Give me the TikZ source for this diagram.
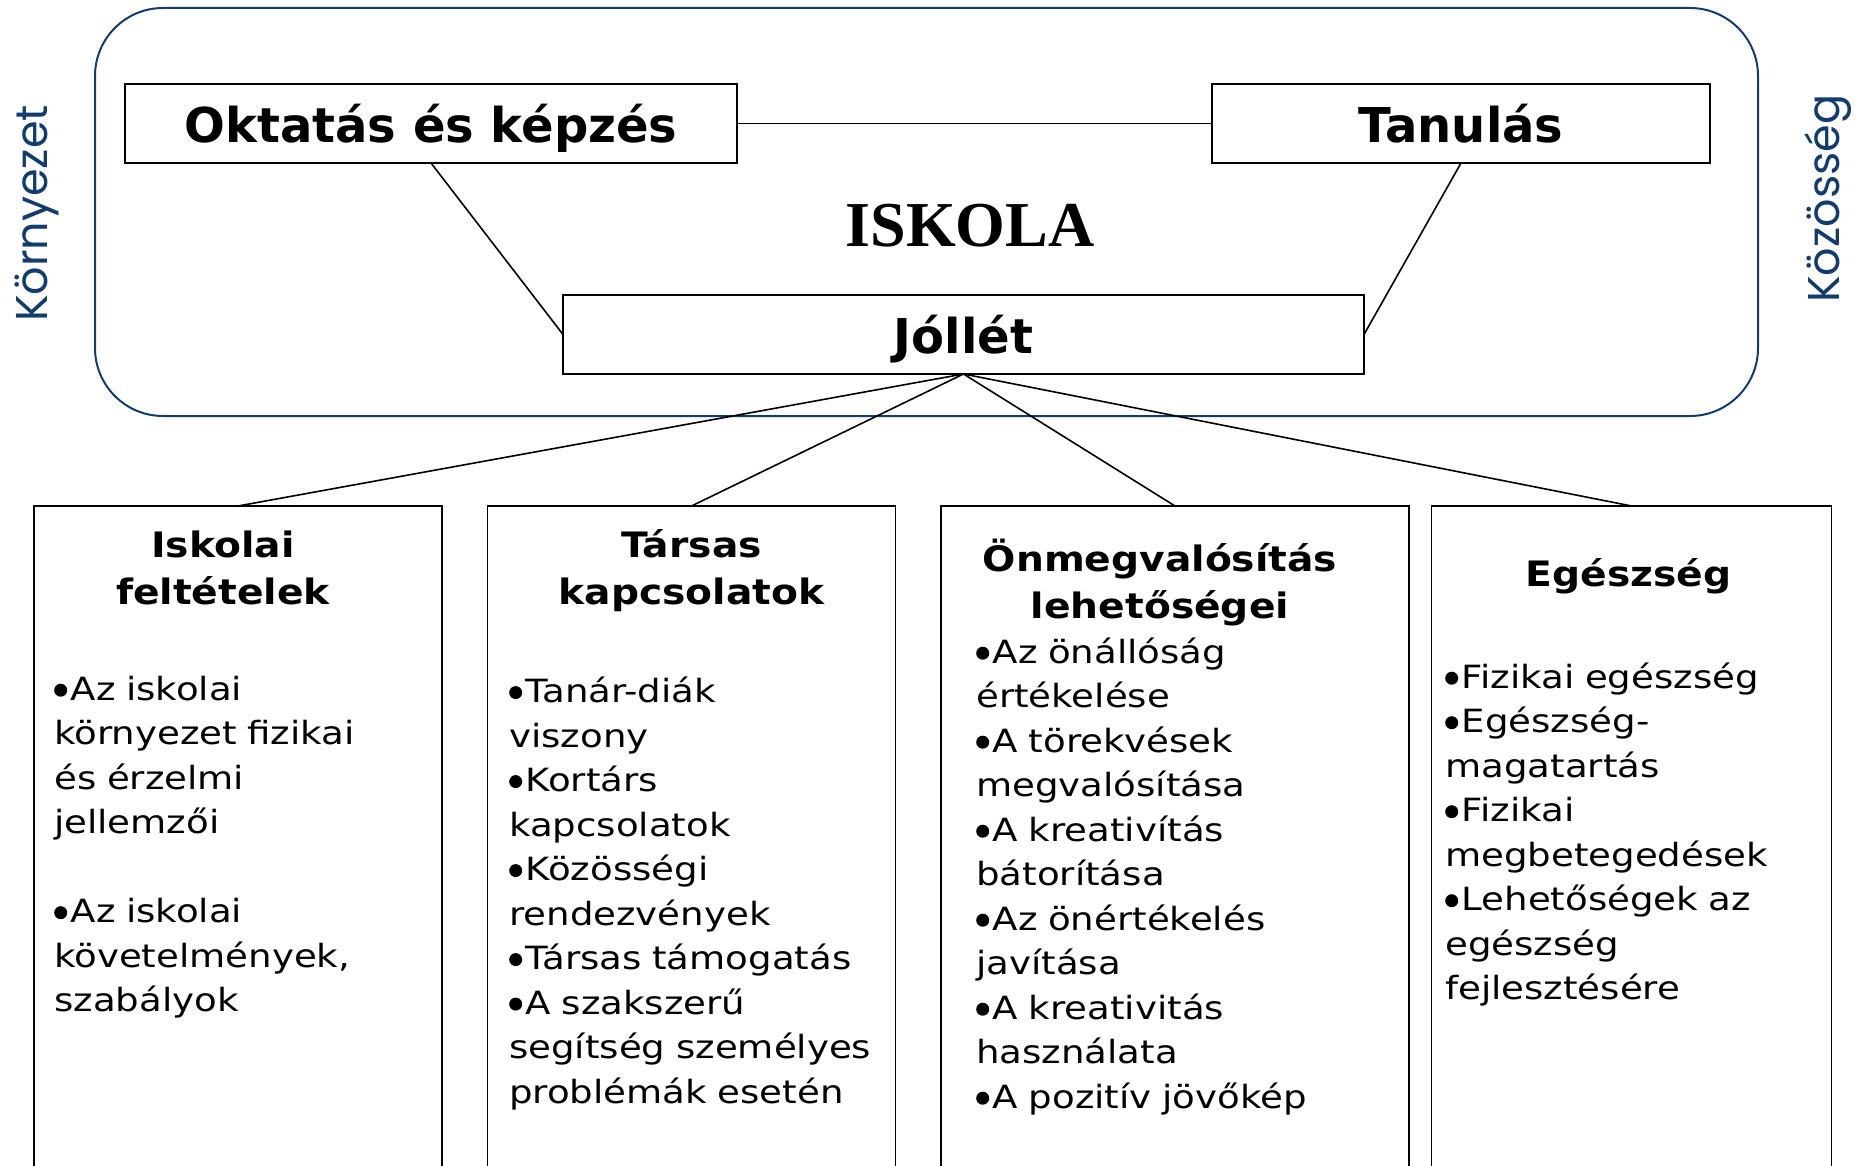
\documentclass[tikz,border=0pt]{standalone}
\usepackage{fontspec}
\setmainfont{DejaVu Sans}
\newfontfamily\bodyf[FakeStretch=1.16]{DejaVu Sans}
\newfontfamily\headf[FakeStretch=1.12]{DejaVu Sans}
\newfontfamily\topf{DejaVu Sans}
\newfontfamily\iskf{Liberation Serif}
\newfontfamily\sidef{Poppins}
\definecolor{navy}{RGB}{18,60,110}
\newcommand\bu{\tikz[baseline=0pt]\fill (6.5pt,10pt) circle[radius=6.5pt];\hspace{3.5pt}}
\begin{document}
\begin{tikzpicture}[x=1pt,y=-1pt,
  topbox/.style={draw, line width=2pt, inner sep=0pt, outer sep=0pt, minimum height=79pt,
    font=\topf\bfseries\fontsize{48}{56}\selectfont, text depth=0pt},
  colbox/.style={draw, line width=1.6pt, anchor=north, minimum height=760pt, inner sep=0pt, outer sep=0pt},
  link/.style={line width=1.6pt},
  head/.style={anchor=north, align=center, inner sep=0pt, text width=460pt,
    font=\headf\bfseries\fontsize{35}{47}\selectfont},
  body/.style={anchor=north west, align=left, inner sep=0pt, text width=440pt,
    font=\bodyf\fontsize{32}{44.5}\selectfont},
  side/.style={anchor=base, rotate=90, inner sep=0pt, text=navy,
    font=\sidef\fontsize{44.5}{50}\selectfont}]
\useasboundingbox (0,0) rectangle (1860,1166);
\clip (0,0) rectangle (1860,1166);
% school frame
\node[draw=navy, line width=2pt, rounded corners=68pt, minimum width=1663pt, minimum height=408pt,
  inner sep=0pt] (school) at (926.5,212) {};
\node[side] (env) at (47,213.5) {Környezet};
\node[side] (comm) at (1839,198.7) {Közösség};
\node[anchor=base, inner sep=0pt, font=\iskf\bfseries\fontsize{64}{70}\selectfont] (isk) at (970,247) {ISKOLA};
% top boxes
\node[topbox, minimum width=612.5pt, text height=39pt] (okt) at (431,123.5) {Oktatás és képzés};
\node[topbox, minimum width=498pt, text height=39pt] (tan) at (1461,123.5) {Tanulás};
\node[topbox, minimum width=801pt, text height=37pt] (jol) at (963.5,334.5) {Jóllét};
\draw[link] (okt.east) -- (tan.west);
\draw[link] (okt.south) -- (jol.west);
\draw[link] (tan.south) -- (jol.east);
% columns
\node[colbox, minimum width=408pt] (b1) at (238,506) {};
\node[colbox, minimum width=408pt] (b2) at (691.5,506) {};
\node[colbox, minimum width=468pt] (b3) at (1175,506) {};
\node[colbox, minimum width=400pt] (b4) at (1631.6,506) {};
\draw[link] (jol.south) -- (b1.north);
\draw[link] (jol.south) -- (b2.north);
\draw[link] (jol.south) -- (b3.north);
\draw[link] (jol.south) -- (b4.north);
% headings
\node[head] (h1) at (223,524.1) {\strut Iskolai\\feltételek};
\node[head] (h2) at (691.5,524.1) {\strut Társas\\kapcsolatok};
\node[head] (h3) at (1160,538.1) {\strut Önmegvalósítás\\lehetőségei};
\node[head] (h4) at (1628.7,553.7) {\strut Egészség};
% bodies
\node[body] (t1) at (54,668.85) {\strut\bu Az iskolai\\környezet fizikai\\és érzelmi\\jellemzői\\[44.5pt]\bu Az iskolai\\követelmények,\\szabályok};
\node[body] (t2) at (509,671.25) {\strut\bu Tanár-diák\\viszony\\\bu Kortárs\\kapcsolatok\\\bu Közösségi\\rendezvények\\\bu Társas támogatás\\\bu A szakszerű\\segítség személyes\\problémák esetén};
\node[body] (t3) at (976,631.85) {\strut\bu Az önállóság\\értékelése\\\bu A törekvések\\megvalósítása\\\bu A kreativítás\\bátorítása\\\bu Az önértékelés\\javítása\\\bu A kreativitás\\használata\\\bu A pozitív jövőkép};
\node[body] (t4) at (1445,656.85) {\strut\bu Fizikai egészség\\\bu Egészség-\\magatartás\\\bu Fizikai\\megbetegedések\\\bu Lehetőségek az\\egészség\\fejlesztésére};
\end{tikzpicture}
\end{document}
